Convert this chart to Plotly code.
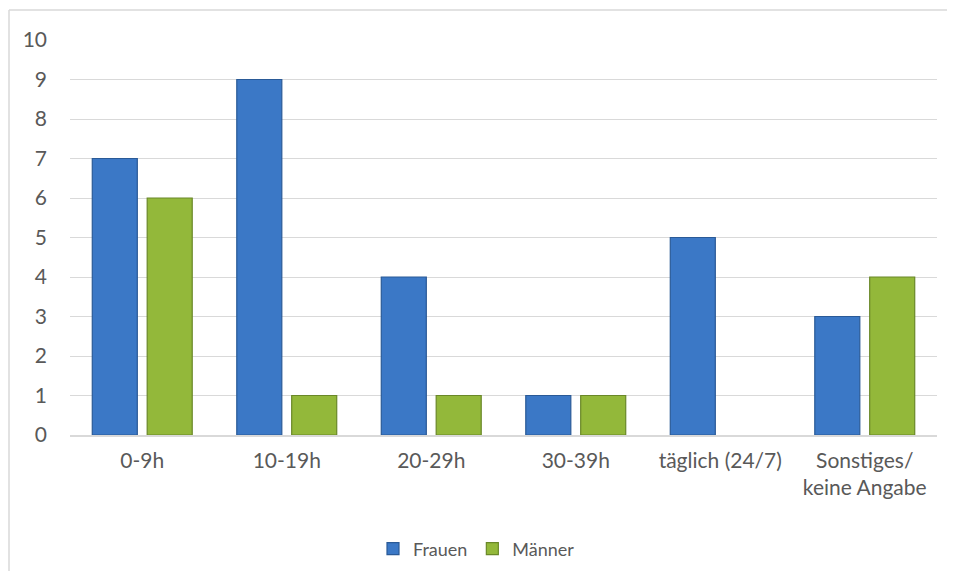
import plotly.graph_objects as go

categories = ["0-9h", "10-19h", "20-29h", "30-39h", "täglich (24/7)", "Sonstiges/<br>keine Angabe"]
frauen = [7, 9, 4, 1, 5, 3]
maenner = [6, 1, 1, 1, None, 4]
y_ticks = list(range(0, 11))

OFF = 8  # page body margin
W, H = 955 - OFF, 579 - 2 * OFF
L, T = 70 - OFF, 40 - OFF
pw, ph = 867, 395
R = W - L - pw
B = H - T - ph

font_family = "Lato, 'Open Sans', sans-serif"
txt_col = "#595959"

fig = go.Figure()
fig.add_trace(go.Bar(
    name="Frauen", x=categories, y=frauen,
    marker=dict(color="#3B78C6", line=dict(color="#2A5A97", width=1.2)),
))
fig.add_trace(go.Bar(
    name="Männer", x=categories, y=maenner,
    marker=dict(color="#93B83A", line=dict(color="#6A8828", width=1.2)),
))

# chart frame: only the top and left edges fall inside the picture
fx0 = (1 - L) / pw
fx1 = (W - L) / pw
fy_top = 1 + (T - 2) / ph
fy_bot = -(H - T - ph) / ph
frame = dict(color="#D9D9D9", width=1.5)
fig.add_shape(type="line", xref="paper", yref="paper", x0=fx0, x1=fx1, y0=fy_top, y1=fy_top,
              line=frame, layer="below")
fig.add_shape(type="line", xref="paper", yref="paper", x0=fx0, x1=fx0, y0=fy_bot, y1=fy_top,
              line=frame, layer="below")

fig.update_layout(
    width=W, height=H,
    margin=dict(l=L, r=R, t=T, b=B, autoexpand=False),
    paper_bgcolor="white", plot_bgcolor="white",
    barmode="group", bargap=0.24, bargroupgap=0.18,
    font=dict(family=font_family, size=21, color=txt_col),
    showlegend=True,
    legend=dict(orientation="h", x=(373 - 70) / pw, xanchor="left",
                y=(435 - 549) / ph, yanchor="middle",
                font=dict(size=18, color=txt_col), itemwidth=30,
                traceorder="normal"),
    xaxis=dict(showgrid=False, showline=True, linecolor="#D9D9D9", linewidth=1.5,
               ticks="", tickfont=dict(size=21, color=txt_col), ticklabelstandoff=6),
    yaxis=dict(range=[0, 10], tickvals=y_ticks, showgrid=True, gridcolor="#D9D9D9",
               gridwidth=1, zeroline=False, showline=False, ticks="",
               tickfont=dict(size=21, color=txt_col), ticklabelstandoff=22),
)

fig.write_html("out.html")
